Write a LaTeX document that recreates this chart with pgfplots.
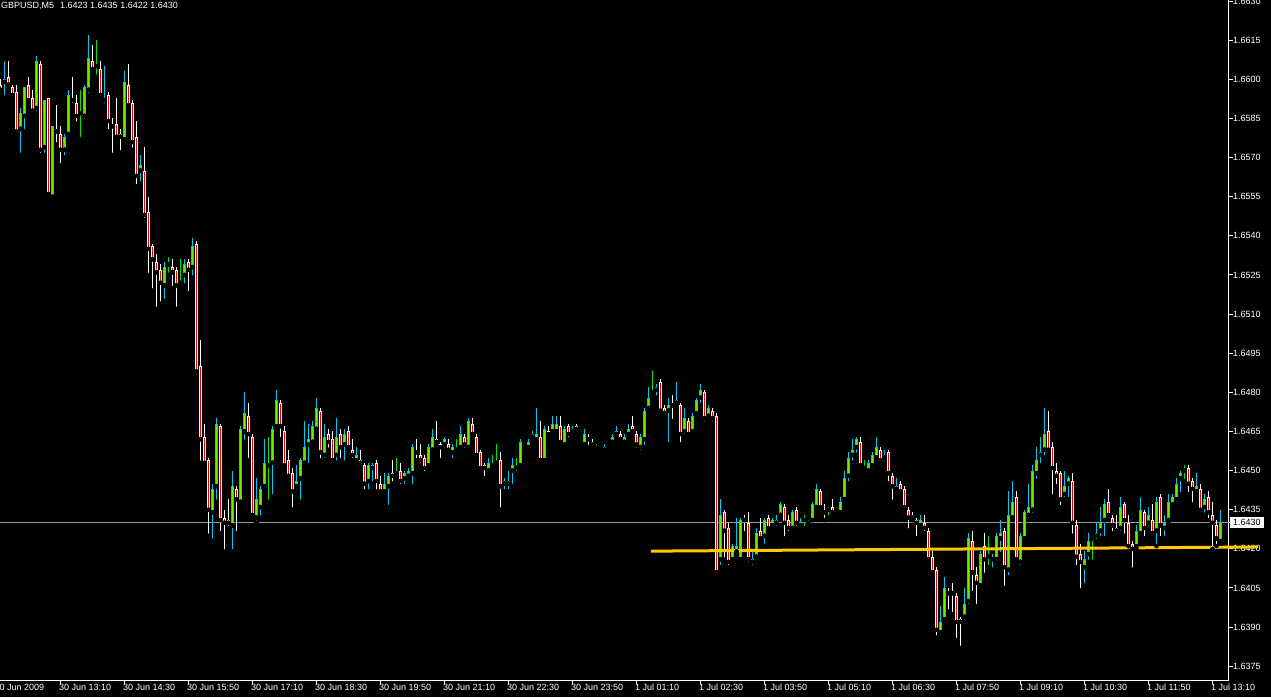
\documentclass[border=0pt]{standalone}
\usepackage{fontspec}
\setmainfont{Liberation Sans}
\usepackage{pgfplots}
\usepackage{pgfplotstable}
\pgfplotsset{compat=1.18}

\definecolor{upline}{RGB}{0,200,235}
\definecolor{upfill}{RGB}{110,235,0}
\definecolor{downfill}{RGB}{235,0,0}
\definecolor{dojigreen}{RGB}{0,230,0}
\definecolor{bidgray}{RGB}{150,150,150}
\definecolor{trendyellow}{RGB}{255,200,0}

\pgfplotsset{
  isup/.style={restrict expr to domain={\thisrow{c}-\thisrow{o}}{0.00001:1}},
  isdown/.style={restrict expr to domain={\thisrow{o}-\thisrow{c}}{0.00001:1}},
  isdoji/.style={restrict expr to domain={abs(\thisrow{c}-\thisrow{o})}{0:0.00001}},
  candlepart/.style={only marks, mark=none, forget plot, unbounded coords=discard},
}

% GBPUSD M5, 30 Jun 2009 11:55 .. 1 Jul 2009 13:20
\pgfplotstableread{
o h l c
1.6598 1.6600 1.6595 1.6596
1.6599 1.6607 1.6593 1.6600
1.6601 1.6607 1.6597 1.6598
1.6597 1.6598 1.6593 1.6594
1.6595 1.6598 1.6579 1.6580
1.6581 1.6589 1.6571 1.6587
1.6586 1.6597 1.6580 1.6597
1.6598 1.6601 1.6591 1.6592
1.6593 1.6596 1.6587 1.6588
1.6589 1.6609 1.6587 1.6607
1.6606 1.6607 1.6571 1.6573
1.6574 1.6592 1.6571 1.6592
1.6593 1.6593 1.6555 1.6556
1.6555 1.6582 1.6554 1.6582
1.6581 1.6590 1.6575 1.6580
1.6579 1.6582 1.6567 1.6573
1.6573 1.6579 1.6570 1.6578
1.6579 1.6596 1.6579 1.6594
1.6593 1.6601 1.6590 1.6592
1.6591 1.6594 1.6583 1.6586
1.6587 1.6596 1.6577 1.6587
1.6586 1.6598 1.6584 1.6597
1.6596 1.6617 1.6594 1.6608
1.6607 1.6613 1.6603 1.6604
1.6605 1.6615 1.6601 1.6605
1.6604 1.6607 1.6593 1.6594
1.6592 1.6605 1.6590 1.6593
1.6594 1.6595 1.6580 1.6584
1.6583 1.6585 1.6571 1.6582
1.6583 1.6593 1.6577 1.6578
1.6579 1.6581 1.6572 1.6578
1.6577 1.6603 1.6576 1.6599
1.6598 1.6606 1.6589 1.6590
1.6591 1.6592 1.6573 1.6576
1.6578 1.6584 1.6559 1.6563
1.6565 1.6571 1.6560 1.6567
1.6565 1.6574 1.6546 1.6548
1.6549 1.6555 1.6525 1.6535
1.6536 1.6537 1.6519 1.6531
1.6530 1.6533 1.6512 1.6526
1.6527 1.6529 1.6514 1.6522
1.6521 1.6530 1.6515 1.6528
1.6529 1.6532 1.6525 1.6529
1.6528 1.6531 1.6520 1.6526
1.6527 1.6528 1.6512 1.6521
1.6522 1.6531 1.6521 1.6522
1.6525 1.6531 1.6521 1.6529
1.6530 1.6531 1.6518 1.6527
1.6528 1.6539 1.6524 1.6536
1.6537 1.6538 1.6487 1.6488
1.6490 1.6500 1.6453 1.6462
1.6463 1.6468 1.6452 1.6453
1.6454 1.6455 1.6425 1.6435
1.6434 1.6445 1.6423 1.6443
1.6444 1.6470 1.6438 1.6468
1.6467 1.6468 1.6426 1.6431
1.6432 1.6435 1.6419 1.6430
1.6431 1.6439 1.6428 1.6430
1.6429 1.6450 1.6419 1.6444
1.6443 1.6444 1.6426 1.6439
1.6438 1.6467 1.6437 1.6466
1.6465 1.6480 1.6461 1.6472
1.6471 1.6476 1.6454 1.6464
1.6463 1.6464 1.6432 1.6433
1.6432 1.6447 1.6430 1.6439
1.6436 1.6444 1.6432 1.6443
1.6444 1.6462 1.6443 1.6453
1.6452 1.6463 1.6438 1.6452
1.6453 1.6467 1.6440 1.6466
1.6467 1.6481 1.6466 1.6477
1.6476 1.6477 1.6462 1.6467
1.6465 1.6467 1.6451 1.6452
1.6454 1.6458 1.6447 1.6448
1.6449 1.6451 1.6435 1.6442
1.6444 1.6452 1.6442 1.6446
1.6447 1.6455 1.6438 1.6454
1.6453 1.6469 1.6452 1.6459
1.6460 1.6468 1.6452 1.6462
1.6461 1.6469 1.6460 1.6467
1.6466 1.6478 1.6465 1.6474
1.6473 1.6474 1.6454 1.6457
1.6456 1.6468 1.6454 1.6463
1.6464 1.6466 1.6458 1.6461
1.6462 1.6465 1.6453 1.6454
1.6456 1.6470 1.6453 1.6463
1.6464 1.6466 1.6454 1.6459
1.6460 1.6466 1.6453 1.6464
1.6465 1.6467 1.6458 1.6459
1.6458 1.6462 1.6454 1.6456
1.6454 1.6459 1.6453 1.6456
1.6454 1.6458 1.6452 1.6453
1.6452 1.6453 1.6442 1.6445
1.6446 1.6453 1.6442 1.6452
1.6451 1.6453 1.6445 1.6452
1.6453 1.6454 1.6442 1.6446
1.6445 1.6448 1.6441 1.6442
1.6442 1.6449 1.6441 1.6445
1.6444 1.6449 1.6436 1.6448
1.6449 1.6454 1.6445 1.6448
1.6449 1.6455 1.6448 1.6449
1.6450 1.6453 1.6444 1.6446
1.6447 1.6450 1.6444 1.6449
1.6448 1.6451 1.6447 1.6450
1.6449 1.6460 1.6444 1.6459
1.6458 1.6462 1.6454 1.6457
1.6456 1.6460 1.6452 1.6454
1.6455 1.6456 1.6449 1.6451
1.6452 1.6460 1.6451 1.6459
1.6458 1.6466 1.6457 1.6463
1.6462 1.6469 1.6460 1.6461
1.6460 1.6461 1.6454 1.6459
1.6460 1.6463 1.6458 1.6462
1.6460 1.6462 1.6457 1.6458
1.6457 1.6460 1.6454 1.6459
1.6458 1.6462 1.6457 1.6458
1.6459 1.6467 1.6458 1.6464
1.6463 1.6464 1.6458 1.6460
1.6459 1.6470 1.6458 1.6469
1.6468 1.6470 1.6463 1.6464
1.6463 1.6464 1.6455 1.6456
1.6457 1.6458 1.6450 1.6451
1.6452 1.6453 1.6447 1.6451
1.6450 1.6455 1.6449 1.6453
1.6452 1.6456 1.6451 1.6452
1.6453 1.6460 1.6452 1.6453
1.6454 1.6457 1.6435 1.6444
1.6445 1.6447 1.6442 1.6446
1.6445 1.6450 1.6442 1.6446
1.6450 1.6455 1.6444 1.6452
1.6451 1.6455 1.6449 1.6451
1.6452 1.6462 1.6451 1.6461
1.6460 1.6461 1.6459 1.6460
1.6459 1.6462 1.6458 1.6461
1.6463 1.6465 1.6462 1.6464
1.6462 1.6474 1.6461 1.6464
1.6463 1.6469 1.6453 1.6454
1.6454 1.6467 1.6453 1.6466
1.6465 1.6467 1.6463 1.6464
1.6465 1.6471 1.6464 1.6468
1.6465 1.6471 1.6464 1.6468
1.6467 1.6471 1.6460 1.6461
1.6460 1.6467 1.6459 1.6466
1.6467 1.6468 1.6462 1.6464
1.6465 1.6467 1.6464 1.6466
1.6467 1.6468 1.6465 1.6466
1.6465 1.6466 1.6464 1.6465
1.6460 1.6466 1.6459 1.6464
1.6463 1.6464 1.6459 1.6462
1.6461 1.6462 1.6459 1.6460
1.6459 1.6460 1.6458 1.6459
1.6457 1.6458 1.6456 1.6457
1.6458 1.6460 1.6457 1.6459
1.6460 1.6461 1.6459 1.6460
1.6461 1.6464 1.6460 1.6463
1.6464 1.6467 1.6463 1.6465
1.6464 1.6465 1.6461 1.6462
1.6461 1.6464 1.6460 1.6463
1.6464 1.6468 1.6463 1.6466
1.6467 1.6471 1.6464 1.6465
1.6464 1.6465 1.6458 1.6460
1.6459 1.6464 1.6457 1.6463
1.6462 1.6474 1.6459 1.6473
1.6474 1.6482 1.6473 1.6478
1.6480 1.6488 1.6479 1.6480
1.6481 1.6483 1.6478 1.6482
1.6484 1.6485 1.6472 1.6473
1.6474 1.6475 1.6471 1.6472
1.6473 1.6478 1.6460 1.6475
1.6476 1.6479 1.6469 1.6475
1.6476 1.6484 1.6475 1.6477
1.6475 1.6476 1.6460 1.6464
1.6465 1.6474 1.6463 1.6470
1.6469 1.6470 1.6463 1.6464
1.6465 1.6472 1.6464 1.6471
1.6472 1.6478 1.6471 1.6477
1.6478 1.6483 1.6475 1.6481
1.6480 1.6481 1.6468 1.6470
1.6471 1.6475 1.6470 1.6474
1.6473 1.6474 1.6468 1.6470
1.6471 1.6472 1.6410 1.6411
1.6416 1.6439 1.6413 1.6433
1.6434 1.6435 1.6416 1.6427
1.6428 1.6430 1.6413 1.6415
1.6416 1.6422 1.6415 1.6421
1.6419 1.6432 1.6418 1.6421
1.6416 1.6432 1.6415 1.6431
1.6432 1.6433 1.6426 1.6431
1.6430 1.6434 1.6414 1.6416
1.6415 1.6419 1.6413 1.6416
1.6417 1.6428 1.6416 1.6426
1.6427 1.6432 1.6423 1.6424
1.6425 1.6432 1.6421 1.6431
1.6432 1.6433 1.6427 1.6428
1.6429 1.6432 1.6427 1.6431
1.6430 1.6433 1.6428 1.6431
1.6433 1.6438 1.6432 1.6437
1.6436 1.6437 1.6424 1.6430
1.6431 1.6433 1.6426 1.6428
1.6428 1.6435 1.6427 1.6434
1.6435 1.6436 1.6428 1.6430
1.6429 1.6432 1.6428 1.6430
1.6431 1.6433 1.6428 1.6431
1.6430 1.6431 1.6429 1.6430
1.6431 1.6438 1.6429 1.6437
1.6436 1.6445 1.6435 1.6443
1.6442 1.6443 1.6435 1.6436
1.6435 1.6437 1.6431 1.6434
1.6435 1.6436 1.6432 1.6435
1.6436 1.6439 1.6433 1.6434
1.6435 1.6436 1.6434 1.6435
1.6434 1.6440 1.6433 1.6438
1.6439 1.6450 1.6438 1.6447
1.6448 1.6457 1.6445 1.6455
1.6456 1.6462 1.6453 1.6458
1.6459 1.6463 1.6456 1.6462
1.6461 1.6463 1.6451 1.6452
1.6451 1.6454 1.6450 1.6451
1.6450 1.6454 1.6449 1.6453
1.6452 1.6457 1.6450 1.6456
1.6455 1.6463 1.6454 1.6459
1.6458 1.6459 1.6453 1.6454
1.6455 1.6458 1.6453 1.6456
1.6457 1.6458 1.6445 1.6449
1.6448 1.6449 1.6438 1.6444
1.6443 1.6447 1.6442 1.6444
1.6445 1.6446 1.6441 1.6442
1.6443 1.6444 1.6435 1.6436
1.6435 1.6436 1.6427 1.6432
1.6433 1.6434 1.6431 1.6432
1.6431 1.6432 1.6424 1.6430
1.6429 1.6433 1.6428 1.6431
1.6430 1.6433 1.6426 1.6428
1.6427 1.6428 1.6415 1.6416
1.6417 1.6419 1.6410 1.6411
1.6412 1.6413 1.6386 1.6389
1.6388 1.6398 1.6386 1.6392
1.6393 1.6409 1.6392 1.6405
1.6404 1.6405 1.6396 1.6403
1.6404 1.6407 1.6395 1.6403
1.6402 1.6403 1.6385 1.6392
1.6393 1.6394 1.6382 1.6392
1.6394 1.6405 1.6393 1.6399
1.6400 1.6426 1.6398 1.6424
1.6423 1.6427 1.6403 1.6411
1.6410 1.6413 1.6398 1.6407
1.6406 1.6419 1.6405 1.6418
1.6421 1.6426 1.6410 1.6416
1.6417 1.6425 1.6413 1.6417
1.6416 1.6418 1.6412 1.6417
1.6416 1.6426 1.6415 1.6425
1.6424 1.6431 1.6418 1.6426
1.6427 1.6428 1.6405 1.6413
1.6412 1.6442 1.6409 1.6433
1.6432 1.6446 1.6431 1.6438
1.6440 1.6442 1.6415 1.6416
1.6415 1.6426 1.6413 1.6425
1.6424 1.6435 1.6423 1.6434
1.6433 1.6445 1.6431 1.6436
1.6435 1.6452 1.6433 1.6450
1.6449 1.6459 1.6446 1.6454
1.6456 1.6463 1.6452 1.6457
1.6458 1.6474 1.6455 1.6464
1.6465 1.6473 1.6457 1.6458
1.6459 1.6461 1.6440 1.6451
1.6450 1.6453 1.6444 1.6448
1.6449 1.6450 1.6436 1.6439
1.6441 1.6450 1.6439 1.6444
1.6445 1.6448 1.6439 1.6447
1.6446 1.6449 1.6425 1.6430
1.6429 1.6431 1.6413 1.6417
1.6418 1.6422 1.6404 1.6415
1.6413 1.6419 1.6406 1.6416
1.6418 1.6426 1.6415 1.6423
1.6424 1.6425 1.6415 1.6424
1.6425 1.6430 1.6423 1.6426
1.6427 1.6436 1.6424 1.6430
1.6431 1.6439 1.6424 1.6437
1.6438 1.6443 1.6432 1.6433
1.6432 1.6433 1.6426 1.6429
1.6428 1.6433 1.6426 1.6427
1.6428 1.6440 1.6426 1.6436
1.6437 1.6438 1.6425 1.6431
1.6430 1.6433 1.6419 1.6421
1.6422 1.6423 1.6412 1.6420
1.6421 1.6429 1.6420 1.6427
1.6426 1.6440 1.6425 1.6435
1.6434 1.6435 1.6424 1.6428
1.6430 1.6436 1.6428 1.6433
1.6431 1.6437 1.6425 1.6426
1.6427 1.6440 1.6421 1.6438
1.6440 1.6441 1.6424 1.6429
1.6428 1.6433 1.6424 1.6430
1.6431 1.6441 1.6430 1.6438
1.6437 1.6441 1.6436 1.6440
1.6439 1.6447 1.6437 1.6445
1.6447 1.6450 1.6441 1.6449
1.6450 1.6452 1.6446 1.6450
1.6451 1.6452 1.6441 1.6445
1.6446 1.6447 1.6437 1.6443
1.6442 1.6449 1.6441 1.6444
1.6443 1.6445 1.6434 1.6435
1.6436 1.6441 1.6433 1.6439
1.6440 1.6442 1.6431 1.6434
1.6433 1.6438 1.6420 1.6430
1.6429 1.6431 1.6421 1.6424
1.6423 1.6435 1.6422 1.6430
}\candles

\begin{document}
\begin{tikzpicture}
\fill[black] (0pt,-17pt) rectangle (1271pt,680pt);
\begin{axis}[
  at={(0pt,0pt)}, anchor=south west,
  width=1229pt, height=680pt, scale only axis,
  xmin=-0.125, xmax=307.125,
  ymin=1.63697, ymax=1.66304,
  clip=false,
  axis x line=bottom, axis y line=right,
  axis line style={white, line width=1pt, -},
  tick align=outside, major tick length=4pt,
  tick style={white, line width=1pt},
  xtick={15,31,...,303},
  xticklabels={30 Jun 13:10, 30 Jun 14:30, 30 Jun 15:50, 30 Jun 17:10, 30 Jun 18:30,
    30 Jun 19:50, 30 Jun 21:10, 30 Jun 22:30, 30 Jun 23:50, 1 Jul 01:10, 1 Jul 02:30,
    1 Jul 03:50, 1 Jul 05:10, 1 Jul 06:30, 1 Jul 07:50, 1 Jul 09:10, 1 Jul 10:30,
    1 Jul 11:50, 1 Jul 13:10},
  ytick={1.6375,1.6390,1.6405,1.6420,1.6435,1.6450,1.6465,1.6480,1.6495,1.6510,
    1.6525,1.6540,1.6555,1.6570,1.6585,1.6600,1.6615,1.6630},
  scaled y ticks=false,
  ticklabel style={font=\fontsize{9}{10}\selectfont, text=white},
  xticklabel style={anchor=north west, inner sep=0pt, xshift=-1.5pt},
  yticklabel style={anchor=west, inner sep=0pt,
    /pgf/number format/fixed, /pgf/number format/fixed zerofill,
    /pgf/number format/precision=4, /pgf/number format/assume math mode=true},
  extra x ticks={-0.125}, extra x tick labels={30 Jun 2009},
  extra x tick style={major tick style={draw=none}, xticklabel style={xshift=-4pt}},
  extra y ticks={1.6430}, extra y tick labels={1.6430},
  extra y tick style={grid=major, major grid style={bidgray, line width=1pt},
    yticklabel style={fill=white, text=black, inner xsep=3pt, inner ysep=2.5pt, xshift=-3pt}},
]
% wicks
\addplot[candlepart, isup, error bars/.cd, y dir=plus, y explicit, error mark=none,
  error bar style={upline, line width=1pt}]
  table[x expr=\coordindex, y=l, y error plus expr=\thisrow{h}-\thisrow{l}] {\candles};
\addplot[candlepart, isdown, error bars/.cd, y dir=plus, y explicit, error mark=none,
  error bar style={white, line width=1pt}]
  table[x expr=\coordindex, y=l, y error plus expr=\thisrow{h}-\thisrow{l}] {\candles};
\addplot[candlepart, isdoji, error bars/.cd, y dir=plus, y explicit, error mark=none,
  error bar style={dojigreen, line width=1pt}]
  table[x expr=\coordindex, y=l, y error plus expr=\thisrow{h}-\thisrow{l}] {\candles};
% bodies: outline
\addplot[candlepart, isup, error bars/.cd, y dir=plus, y explicit, error mark=none,
  error bar style={upline, line width=3pt}]
  table[x expr=\coordindex, y=o, y error plus expr=\thisrow{c}-\thisrow{o}] {\candles};
\addplot[candlepart, isdown, error bars/.cd, y dir=plus, y explicit, error mark=none,
  error bar style={white, line width=3pt}]
  table[x expr=\coordindex, y=c, y error plus expr=\thisrow{o}-\thisrow{c}] {\candles};
% bodies: fill
\addplot[candlepart, isup, error bars/.cd, y dir=plus, y explicit, error mark=none,
  error bar style={upfill, line width=1pt, shorten <=1pt, shorten >=1pt}]
  table[x expr=\coordindex, y=o, y error plus expr=\thisrow{c}-\thisrow{o}] {\candles};
\addplot[candlepart, isdown, error bars/.cd, y dir=plus, y explicit, error mark=none,
  error bar style={downfill, line width=1pt, shorten <=1pt, shorten >=1pt}]
  table[x expr=\coordindex, y=c, y error plus expr=\thisrow{o}-\thisrow{c}] {\candles};
% doji crosses
\addplot[candlepart, isdoji, error bars/.cd, x dir=both, x fixed=0.375, error mark=none,
  error bar style={dojigreen, line width=1pt}]
  table[x expr=\coordindex, y=o] {\candles};
% trend line
\addplot[trendyellow, line width=3pt] coordinates {(162.6,1.64191) (314.4,1.64207)};
\node[anchor=north west, inner sep=0pt, text=white, font=\fontsize{9}{10}\selectfont,
  xshift=1pt, yshift=-2pt] at (rel axis cs:0,1) {GBPUSD,M5\hspace{6pt}1.6423 1.6435 1.6422 1.6430};
\end{axis}
\pgfresetboundingbox
\path (0pt,-17pt) rectangle (1271pt,680pt);
\end{tikzpicture}
\end{document}
